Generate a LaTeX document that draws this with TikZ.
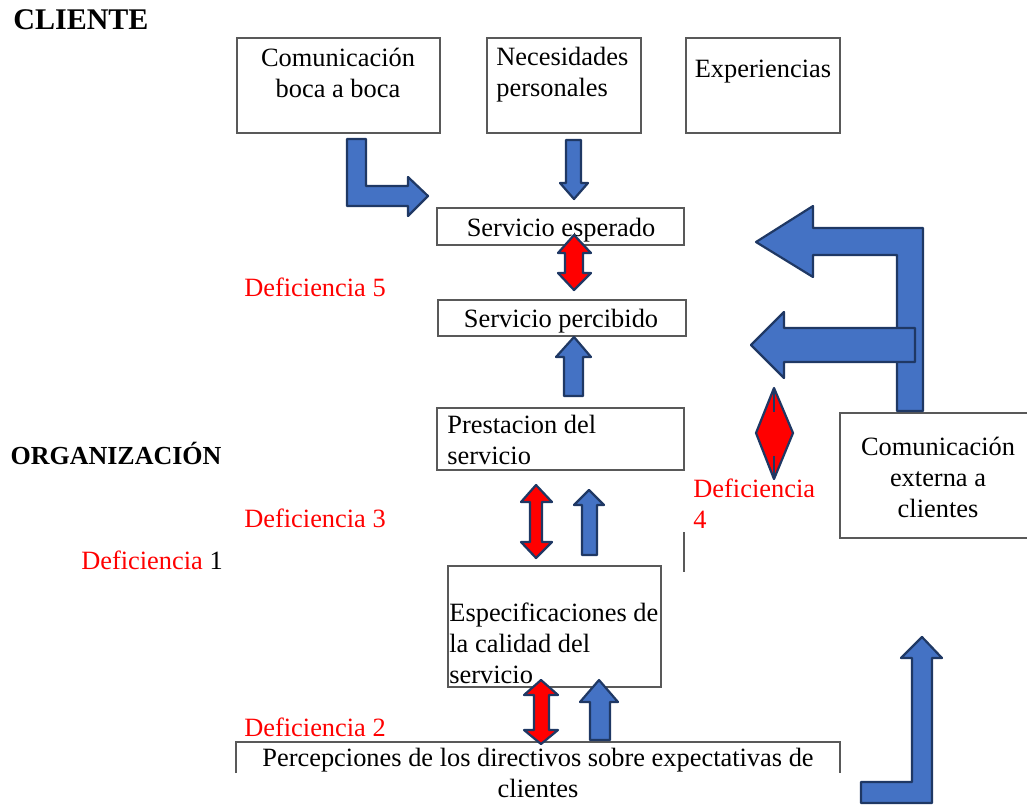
\documentclass[tikz,border=0pt]{standalone}
\usepackage{fontspec}
\setmainfont{Liberation Serif}
\usetikzlibrary{fit}
\definecolor{arrowblue}{HTML}{4472C4}
\definecolor{arrowline}{HTML}{1F3864}
\definecolor{boxline}{HTML}{595959}
\begin{document}
\begin{tikzpicture}[x=0.5pt, y=-0.5pt,
  font=\fontsize{13.2}{15.5}\selectfont,
  box/.style={draw=boxline, line width=0.6pt, rectangle, inner sep=0pt},
  txt/.style={inner sep=0pt},
  defic/.style={inner sep=0pt, text=red},
  title/.style={inner sep=0pt, font=\fontsize{13}{15}\selectfont\bfseries},
  blue block/.style={fill=arrowblue, draw=arrowline, line width=1.1pt, line join=round},
  red block/.style={fill=red, draw=arrowline, line width=1.1pt, line join=round}]
\useasboundingbox (0,0) rectangle (1027,805);
% cliente
\node[title, font=\fontsize{15}{18}\selectfont\bfseries] (cliente) at (81,20) {CLIENTE};
\node[box, fit={(237,38) (440,133)}] (boca) {};
\node[txt, align=center] (bocaText) at (338,73) {Comunicación\\boca a boca};
\node[box, fit={(487,38) (641,133)}] (necesidades) {};
\node[txt, align=left, anchor=west] (necesidadesText) at (496,75) {Necesidades\\personales};
\node[box, fit={(686,38) (840,133)}] (experiencias) {};
\node[txt] (experienciasText) at (763,72) {Experiencias};
\node[box, fit={(437,208) (684,245)}] (esperado) {};
\node[txt] (esperadoText) at (561,230) {Servicio esperado};
\node[defic] (def5) at (315,287) {Deficiencia 5};
\node[box, fit={(438,300) (686,336)}] (percibido) {};
\node[txt] (percibidoText) at (561,321) {Servicio percibido};
% organizacion
\node[title] (organizacion) at (116,453) {ORGANIZACIÓN};
\node[box, fit={(437,408) (684,470)}] (prestacion) {};
\node[txt, align=left, anchor=west] (prestacionText) at (447,440) {Prestacion del\\servicio};
\node[defic] (def3) at (315,518) {Deficiencia 3};
\node[txt] (def1) at (152,560) {\textcolor{red}{Deficiencia} 1};
\node[defic, align=left, anchor=west] (def4) at (693,504) {Deficiencia\\4};
\node[box, fit={(840,413) (1032,538)}] (externa) {};
\node[txt, align=center] (externaText) at (938,477) {Comunicación\\externa a\\clientes};
\draw[boxline, line width=0.6pt] (684,532) -- (684,572);
\node[box, fit={(448,566) (661,687)}] (especificaciones) {};
\node[txt, align=left, anchor=west] (especificacionesText) at (449,643) {Especificaciones de\\la calidad del\\servicio};
\node[defic] (def2) at (315,727) {Deficiencia 2};
\draw[boxline, line width=0.6pt] (236,773) |- (840,742) -- (840,773);
\node[txt, align=center] (percepciones) at (538,773) {Percepciones de los directivos sobre expectativas de\\clientes};
% flechas azules
\draw[blue block] (347,139) -- (366,139) -- (366,186) -- (408,186) -- (408,177) -- (428,196) -- (408,216) -- (408,206) -- (347,206) -- cycle;
\draw[blue block] (566,140) -- (581,140) -- (581,183) -- (588,183) -- (574,199) -- (560,183) -- (566,183) -- cycle;
\draw[blue block] (564,396) -- (583,396) -- (583,357) -- (591,357) -- (574,337) -- (556,357) -- (564,357) -- cycle;
\draw[blue block] (582,555) -- (597,555) -- (597,505) -- (604,505) -- (589,490) -- (574,505) -- (582,505) -- cycle;
\draw[blue block] (590,740) -- (610,740) -- (610,702) -- (618,702) -- (599,680) -- (580,702) -- (590,702) -- cycle;
\draw[blue block] (897,411) -- (897,255) -- (813,255) -- (813,277) -- (756,242) -- (813,206) -- (813,228) -- (923,228) -- (923,411) -- cycle;
\draw[blue block] (915,328) -- (784,328) -- (784,312) -- (751,345) -- (784,378) -- (784,362) -- (915,362) -- cycle;
\draw[blue block] (861,782) -- (912,782) -- (912,658) -- (901,658) -- (922,637) -- (942,658) -- (932,658) -- (932,803) -- (861,803) -- cycle;
% flechas rojas
\draw[red block] (574,235) -- (591,253) -- (583,253) -- (583,273) -- (591,273) -- (574,290) -- (558,273) -- (565,273) -- (565,253) -- (558,253) -- cycle;
\draw[red block] (536,485) -- (552,502) -- (542,502) -- (542,542) -- (552,542) -- (536,558) -- (521,542) -- (530,542) -- (530,502) -- (521,502) -- cycle;
\draw[red block] (541,680) -- (558,695) -- (549,695) -- (549,730) -- (558,730) -- (541,744) -- (524,730) -- (534,730) -- (534,695) -- (524,695) -- cycle;
\draw[red block] (774,388) -- (793,433) -- (774,479) -- (756,433) -- cycle;
\draw[arrowline, line width=1.1pt] (774,388) -- (774,412) (774,456) -- (774,479);
\end{tikzpicture}
\end{document}
